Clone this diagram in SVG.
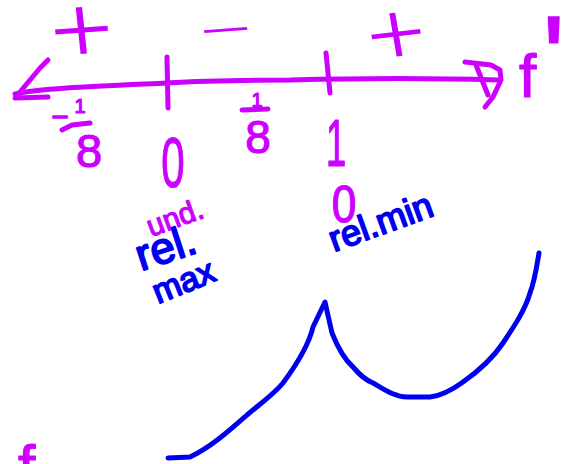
<svg xmlns="http://www.w3.org/2000/svg" width="578" height="464" viewBox="0 0 578 464">
  <style>
    .m { fill: none; stroke: #cc00ff; stroke-width: 5; stroke-linecap: round; stroke-linejoin: round; }
    .b { fill: none; stroke: #0000f0; stroke-width: 5; stroke-linecap: round; stroke-linejoin: round; }
    .tm { fill: #cc00ff; stroke: #cc00ff; stroke-width: 1.2; stroke-linejoin: round; font-family: "Liberation Sans", Arial, sans-serif; }
    .ts { fill: #cc00ff; font-family: Roboto, "Liberation Sans", sans-serif; font-weight: 300; }
    .tb { fill: #0000f0; stroke: #0000f0; stroke-width: 1.8; stroke-linejoin: round; font-family: "Liberation Sans", Arial, sans-serif; }
  </style>
  <rect width="578" height="464" fill="#ffffff"/>

  <g id="number-line">
    <path class="m" d="M15,94 C40,88 100,86 167,83 C213,80 260,80 290,80 C365,78 435,78 498,80"/>
    <path class="m" d="M48,60 L40,68 L15,98 L48,97"/>
    <path class="m" d="M465,62 L491,65 L500,70 L501,80 L493,97 L485,107 M476,65 L488,95"/>
    <path class="m" d="M167,57 L168,108"/>
    <path class="m" d="M326,53 L330,93"/>
  </g>

  <g id="signs">
    <text class="ts" font-size="90" text-anchor="middle" transform="translate(85,60) scale(1.2,1) rotate(-5)">+</text>
    <text class="ts" font-size="56" font-weight="400" text-anchor="middle" transform="translate(231,50) scale(1.9,1) rotate(-8)">−</text>
    <text class="ts" font-size="84" text-anchor="middle" transform="translate(401,62) scale(1.2,1) rotate(-8)">+</text>
    <text class="tm" x="519" y="97" font-size="62">f<tspan font-size="120" dx="6" dy="3">'</tspan></text>
  </g>

  <g id="label-neg-eighth">
    <text class="tm" x="60" y="127" font-size="30" text-anchor="middle">−</text>
    <text class="tm" x="80" y="113" font-size="20" text-anchor="middle">1</text>
    <path class="m" d="M62,130 L72,125 L90,123"/>
    <text class="tm" x="89" y="167" font-size="47" text-anchor="middle">8</text>
  </g>

  <g id="label-zero">
    <text class="tm" font-size="70" text-anchor="middle" transform="translate(173,187) scale(0.6,1)">0</text>
  </g>

  <g id="label-eighth">
    <text class="tm" x="257" y="107" font-size="20" text-anchor="middle">1</text>
    <path class="m" d="M242,110 L268,109"/>
    <text class="tm" x="258" y="153" font-size="46" text-anchor="middle">8</text>
  </g>

  <g id="label-one">
    <text class="tm" font-size="66" text-anchor="middle" transform="translate(336,166) scale(0.55,1)">1</text>
  </g>

  <g id="label-und">
    <text class="tm" x="151" y="237" font-size="30" transform="rotate(-20 151 237)">und.</text>
  </g>

  <g id="label-rel-max">
    <text class="tb" x="141" y="271" font-size="44" transform="rotate(-18 141 271)">rel.</text>
    <text class="tb" x="158" y="304" font-size="34" transform="rotate(-22 158 304)">max</text>
  </g>

  <g id="label-rel-min">
    <text class="tm" font-size="52" text-anchor="middle" transform="translate(344,222) scale(0.85,1)">0</text>
    <text class="tb" x="334" y="252" font-size="36" transform="rotate(-20 334 252)">rel.min</text>
  </g>

  <g id="graph">
    <path class="b" d="M168,458 L190,457 C210,448 230,430 247,415 C265,400 275,393 283,383 C300,360 310,340 313,327 L325,302 L332,333 C338,348 345,360 353,367 C360,375 365,380 373,383 C385,390 395,397 407,397 L430,397 C440,396 452,390 463,382 C480,370 495,355 503,343 C515,325 525,310 530,293 C535,280 537,265 539,253"/>
  </g>

  <g id="fragment">
    <text class="tm" x="18" y="488" font-size="62">f</text>
  </g>
</svg>
